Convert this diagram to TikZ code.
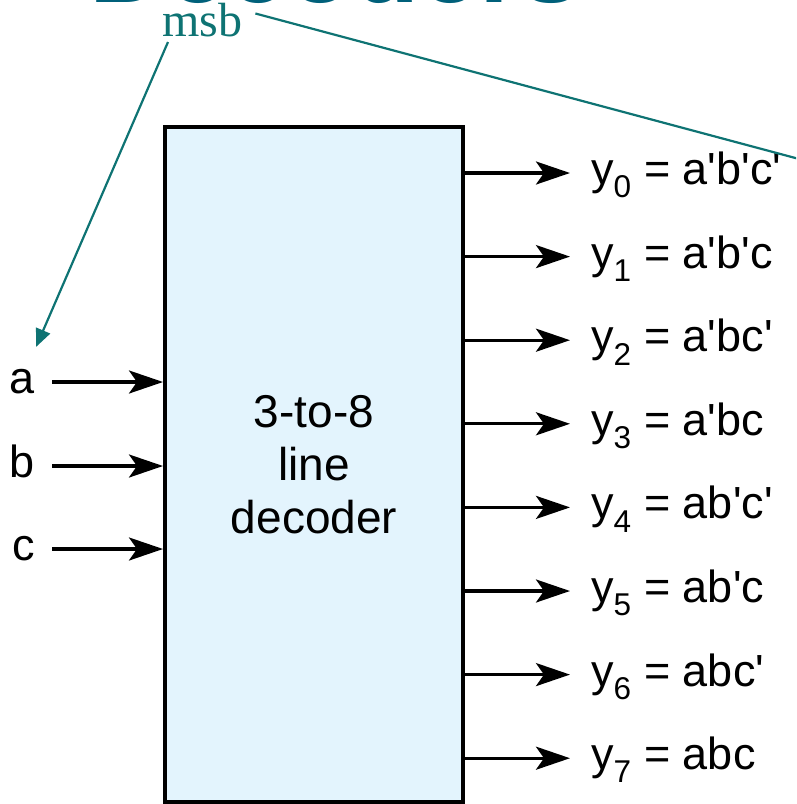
\documentclass[tikz,border=0pt]{standalone}
\usepackage{fontspec}
\setmainfont{Liberation Sans}
\newfontfamily\msbfont{Liberation Serif}
\usetikzlibrary{arrows.meta,positioning}
\definecolor{boxblue}{HTML}{E3F4FD}
\definecolor{msbteal}{HTML}{0E7373}
\definecolor{titleteal}{HTML}{00607A}
\newcommand{\qp}{\textquotesingle}

\begin{document}
\begin{tikzpicture}[x=1pt, y=-1pt,
    sig/.style={line width=3.2pt, -{Stealth[length=34pt, width=23pt, inset=8pt]}},
    msbline/.style={msbteal, line width=2.2pt},
    inlbl/.style={anchor=east, inner sep=0pt, text height=23pt, text depth=0pt, font=\fontsize{45}{50}\selectfont},
    outlbl/.style={anchor=west, inner sep=0pt, text height=23pt, text depth=0pt, font=\fontsize{45}{50}\selectfont}]
    \useasboundingbox (0,0) rectangle (796,804);
    \clip (0,0) rectangle (796,804);

    % Title (cut off at the top)
    \node[titleteal, anchor=base, inner sep=0pt, font=\bfseries\fontsize{108}{120}\selectfont] (title) at (336,2) {Decoders};

    % Decoder block
    \node[draw, line width=4pt, fill=boxblue, minimum width=298pt, minimum height=675pt,
          align=center, font=\fontsize{46}{53}\selectfont] (dec) at (314,464.5) {3-to-8\\line\\decoder};

    % Inputs
    \foreach \n/\yy in {a/382, b/466, c/549} {
      \node[inlbl] (in\n) at (35,\yy) {\n};
      \draw[sig] ([xshift=17pt]in\n.east) -- (in\n.east -| dec.west);
    }

    % Outputs
    \foreach \i/\f in {0/a\qp b\qp c\qp, 1/a\qp b\qp c, 2/a\qp bc\qp, 3/a\qp bc,
                       4/ab\qp c\qp, 5/ab\qp c, 6/abc\qp, 7/abc} {
      \node[outlbl] (y\i) at (591,{173+83.6*\i}) {y\textsubscript{\i} = \f};
      \draw[sig] (y\i.west -| dec.east) -- ([xshift=-21pt]y\i.west);
    }

    % msb annotation
    \node[msbteal, anchor=base west, inner sep=0pt, font=\msbfont\fontsize{48}{50}\selectfont] (msb) at (162,36) {msb};
    \coordinate (atip) at (36,347);
    \coordinate (far) at (900,186);
    \draw[msbline, -{Triangle[length=18pt, width=15pt]}] ([shift={(6pt,-6pt)}]msb.base west) -- (atip);
    \draw[msbline] ([shift={(13pt,-11pt)}]msb.north east) -- (far);
  \end{tikzpicture}
\end{document}
